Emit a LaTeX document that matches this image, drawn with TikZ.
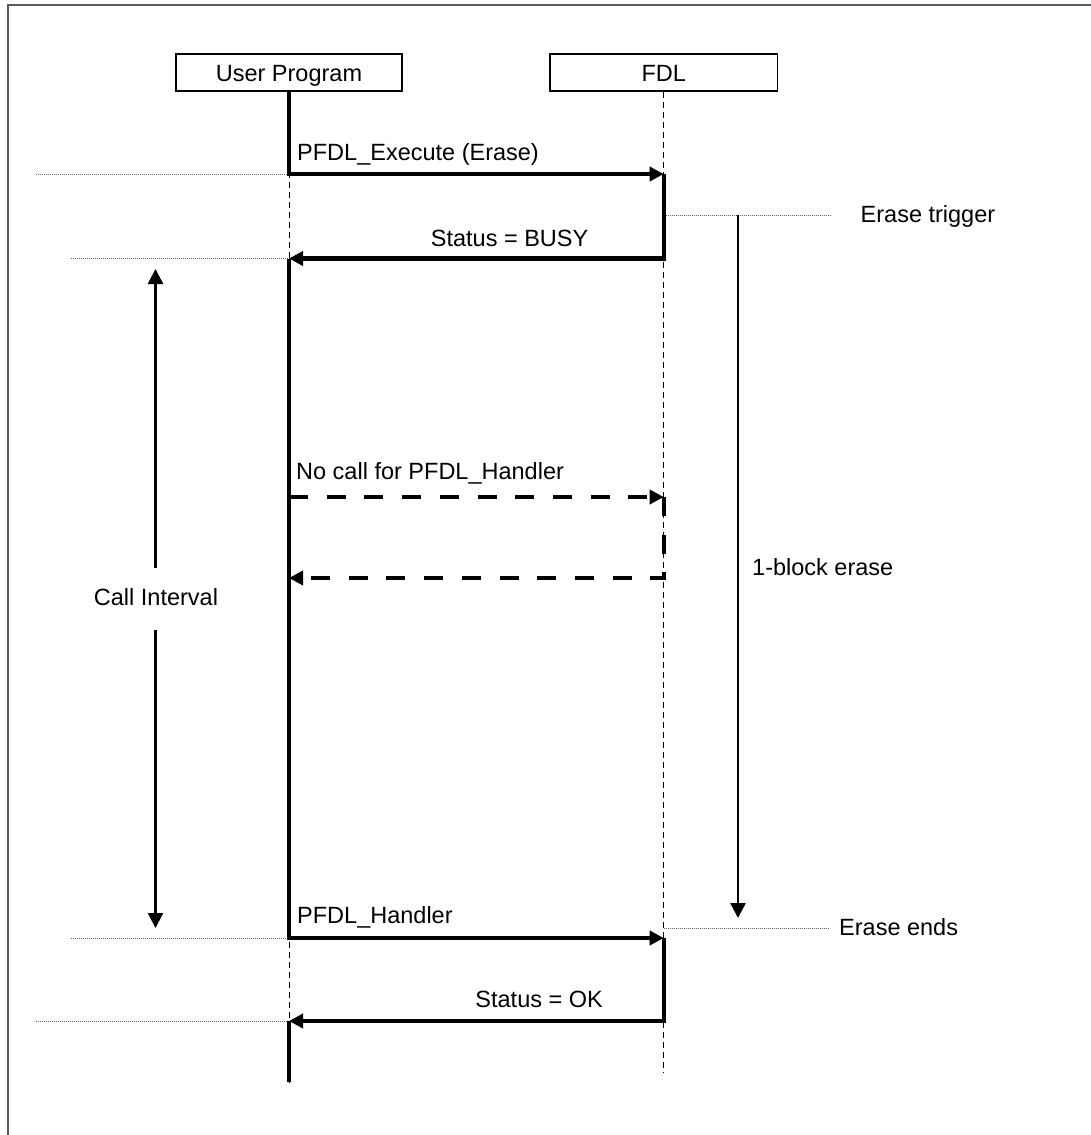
\documentclass[tikz,border=0pt]{standalone}
\usepackage{fontspec}
\setmainfont{Liberation Sans}
\usetikzlibrary{arrows.meta}
\begin{document}
\begin{tikzpicture}[x=1pt,y=-1pt,
  lbl/.style={font=\fontsize{23.5}{28}\selectfont, inner sep=0pt},
  actor/.style={draw, line width=1.5pt, minimum width=226pt, minimum height=37pt,
    inner sep=0pt, text height=17pt, text depth=0pt, font=\fontsize{23.5}{28}\selectfont},
  life/.style={line width=1pt, dash pattern=on 6pt off 4pt},
  guide/.style={line width=0.8pt, black!60, dash pattern=on 1pt off 1pt},
  msg/.style={line width=4.4pt, -{Triangle[length=14pt,width=14pt]}},
  nomsg/.style={msg, dash pattern=on 19pt off 18.7pt},
  bar/.style={line width=4.4pt},
  span/.style={line width=2.5pt, -{Triangle[length=15pt,width=15pt]}},
  frame/.style={black!65, line width=2pt}
]
\useasboundingbox (0,0) rectangle (1091,1135);
\draw[frame] (8,1140) -- (8,5) -- (1100,5);

% actors
\node[actor] (up) at (289,72.5) {User Program};
\node[actor, minimum width=227.5pt] (fdl) at (663.7,72.5) {FDL};

% lifeline points
\coordinate (uA) at (up.south |- 0,174);
\coordinate (fA) at (fdl.south |- 0,174);
\coordinate (fB) at (fdl.south |- 0,258.5);
\coordinate (uB) at (up.south |- 0,258.5);
\coordinate (uC) at (up.south |- 0,497);
\coordinate (fC) at (fdl.south |- 0,497);
\coordinate (fD) at (fdl.south |- 0,578);
\coordinate (uD) at (up.south |- 0,578);
\coordinate (uE) at (up.south |- 0,938);
\coordinate (fE) at (fdl.south |- 0,938);
\coordinate (fF) at (fdl.south |- 0,1021);
\coordinate (uF) at (up.south |- 0,1021);
\coordinate (uEnd) at (up.south |- 0,1082);
\coordinate (fEnd) at (fdl.south |- 0,1073);
\coordinate (fT) at (fdl.south |- 0,215);
\coordinate (fG) at (fdl.south |- 0,928);

% lifelines
\draw[life] (up.south) -- (uEnd);
\draw[life] (fdl.south) -- (fEnd);

% guide lines
\coordinate (gA) at (36,174);
\coordinate (gB) at (71,258.5);
\coordinate (gE) at (71,938);
\coordinate (gF) at (36,1021);
\coordinate (gT) at (831,215);
\coordinate (gG) at (829,928);
\draw[guide] (gA) -- (uA);
\draw[guide] (gB) -- (uB);
\draw[guide] (gE) -- (uE);
\draw[guide] (gF) -- (uF);
\draw[guide] (fT) -- (gT);
\draw[guide] (fG) -- (gG);

% messages
\draw[msg] (up.south) -- (uA) -- (fA);
\draw[msg] (fA) -- (fB) -- (uB);
\draw[msg] (uB) -- (uE) -- (fE);
\draw[nomsg] (uC) -- (fC);
\draw[nomsg] (fC) -- (fD) -- (uD);
\draw[msg] (fE) -- (fF) -- (uF);
\draw[bar] (uF) -- (uEnd);

% labels
\node[lbl, anchor=base west] (l1) at (297,160) {PFDL\_Execute (Erase)};
\node[lbl, anchor=base east] (l2) at (588.5,246) {Status = BUSY};
\node[lbl, anchor=base west] (l3) at (860.5,222) {Erase trigger};
\node[lbl, anchor=base west] (l4) at (296,479) {No call for PFDL\_Handler};
\node[lbl, anchor=base west] (l5) at (752,575) {1-block erase};
\node[lbl, anchor=base] (ci) at (156,605) {Call Interval};
\node[lbl, anchor=base west] (l6) at (297,923) {PFDL\_Handler};
\node[lbl, anchor=base east] (l7) at (603,1007) {Status = OK};
\node[lbl, anchor=base west] (l8) at (839,935) {Erase ends};

% spans
\coordinate (eT) at (738,215);
\coordinate (eB) at (738,918);
\draw[span] (eT) -- (eB);
\coordinate (ciT) at (155.5,269);
\coordinate (ciA) at (155.5,568);
\coordinate (ciB) at (155.5,630);
\coordinate (ciBot) at (155.5,928);
\draw[span] (ciA) -- (ciT);
\draw[span] (ciB) -- (ciBot);
\end{tikzpicture}
\end{document}
